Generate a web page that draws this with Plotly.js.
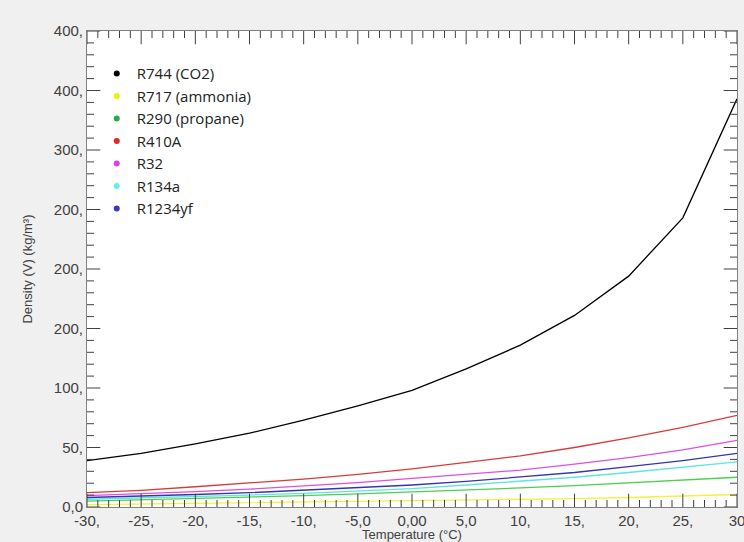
<!DOCTYPE html>
<html>
<head>
<meta charset="utf-8">
<script src="https://cdn.plot.ly/plotly-3.0.1.min.js"></script>
<style>html,body{margin:0;padding:0;background:#f0f0f0;}#chart{width:744px;height:542px;}</style>
</head>
<body>
<div id="chart"></div>
<script>
const temps = [-30,-25,-20,-15,-10,-5,0,5,10,15,20,25,30];
const seriesNames = ["R744 (CO2)","R717 (ammonia)","R290 (propane)","R410A","R32","R134a","R1234yf"];
const r744   = [39, 45, 53, 62, 73, 85, 98, 116, 136, 161, 194, 243, 343];
const r717   = [2, 2.5, 3, 3.5, 4, 4.5, 5, 5.5, 6.5, 7, 8, 9, 10.5];
const r290   = [5, 6, 7, 8, 9.5, 11, 12.5, 14, 16, 18, 20.5, 22.5, 25];
const r410a  = [12, 14, 17, 20, 23.5, 27.5, 32, 37.5, 43, 50, 58, 67, 77];
const r32    = [9.5, 11, 13, 15, 17.5, 20.5, 24, 27.5, 31, 36, 41.5, 48, 56];
const r134a  = [6.5, 7.5, 8.5, 10, 11.5, 13.5, 15.5, 18.5, 21.5, 25, 29, 33.5, 38];
const r1234yf= [8, 9, 10.5, 12, 14, 16, 18.5, 21.5, 25, 29, 34, 39, 45];
const yTickVals = [0,50,100,150,200,250,300,350,400];
const yTickText = ["0,0","50,","100,","200,","200,","200,","300,","400,","400,"];
const xTickVals = [-30,-25,-20,-15,-10,-5,0,5,10,15,20,25,30];
const xTickText = ["-30,","-25,","-20,","-15,","-10,","-5,0","0,00","5,0","10,","15,","20,","25,","30"];
const xRange = [-30, 30];
const yRange = [0, 400];
const xMinorStep = 1;
const yMinorStep = 10;

const allY = [r744, r717, r290, r410a, r32, r134a, r1234yf];
const lineColors = ["#000000","#f2f240","#4fcf4f","#d83a3a","#df4fdf","#5fe3e3","#3434b0"];
const dotColors  = ["#000000","#f0f000","#2aa84a","#e02828","#e040e8","#60f0f0","#3a3ab8"];

const traces = [];
allY.forEach((ys, i) => {
  traces.push({x: temps, y: ys, mode: "lines", type: "scatter", name: seriesNames[i],
    line: {color: lineColors[i], width: 1.3}, showlegend: false, legendgroup: "g"+i});
});
allY.forEach((ys, i) => {
  traces.push({x: [null], y: [null], mode: "markers", type: "scatter", name: seriesNames[i],
    marker: {color: dotColors[i], size: 6}, showlegend: true, legendgroup: "g"+i});
});

// inside tick marks (axis decoration), placed through the axis scales
const TC = "#404040";
const xMinor = [], yMinor = [];
for (let v = xRange[0]; v <= xRange[1]; v += xMinorStep) if (!xTickVals.includes(v)) xMinor.push(v);
for (let v = yRange[0]; v <= yRange[1]; v += yMinorStep) if (!yTickVals.includes(v)) yMinor.push(v);
function tickTrace(xs, ys, symbol, size) {
  return {x: xs, y: ys, type: "scatter", mode: "markers", showlegend: false, hoverinfo: "skip",
    cliponaxis: true, marker: {symbol: symbol, size: size, color: TC, line: {color: TC, width: 1}}};
}
yRange.forEach(yEdge => {
  traces.push(tickTrace(xTickVals, xTickVals.map(() => yEdge), "line-ns-open", 19));
  traces.push(tickTrace(xMinor, xMinor.map(() => yEdge), "line-ns-open", 10));
});
xRange.forEach(xEdge => {
  traces.push(tickTrace(yTickVals.map(() => xEdge), yTickVals, "line-ew-open", 19));
  traces.push(tickTrace(yMinor.map(() => xEdge), yMinor, "line-ew-open", 10));
});

const tickFont = {family: "Liberation Sans, Arial, sans-serif", size: 15, color: "#404040"};
const layout = {
  width: 744, height: 542,
  margin: {l: 87, r: 7, t: 31, b: 35},
  paper_bgcolor: "#f0f0f0",
  plot_bgcolor: "#ffffff",
  showlegend: true,
  legend: {x: 0.015, y: 0.945, xanchor: "left", yanchor: "top", bgcolor: "rgba(0,0,0,0)",
    font: {family: "Open Sans, Noto Sans, sans-serif", size: 15, color: "#222"},
    itemwidth: 30, tracegroupgap: 0, traceorder: "normal"},
  xaxis: {range: xRange, tickmode: "array", tickvals: xTickVals, ticktext: xTickText, ticks: "",
    showgrid: false, zeroline: false, showline: true, linecolor: "#808080", linewidth: 1, mirror: true,
    tickfont: tickFont, ticklabeloverflow: "allow",
    title: {text: "Temperature (°C)", font: {family: "Liberation Sans, Arial, sans-serif", size: 13, color: "#404040"}, standoff: 4},
    automargin: false},
  yaxis: {range: yRange, tickmode: "array", tickvals: yTickVals, ticktext: yTickText, ticks: "",
    showgrid: false, zeroline: false, showline: true, linecolor: "#808080", linewidth: 1, mirror: true,
    tickfont: tickFont, ticklabeloverflow: "allow",
    title: {text: "Density (V) (kg/m³)", font: {family: "Liberation Sans, Arial, sans-serif", size: 13, color: "#404040"}, standoff: 18},
    automargin: false}
};
Plotly.newPlot("chart", traces, layout, {displayModeBar: false});
</script>
</body>
</html>
